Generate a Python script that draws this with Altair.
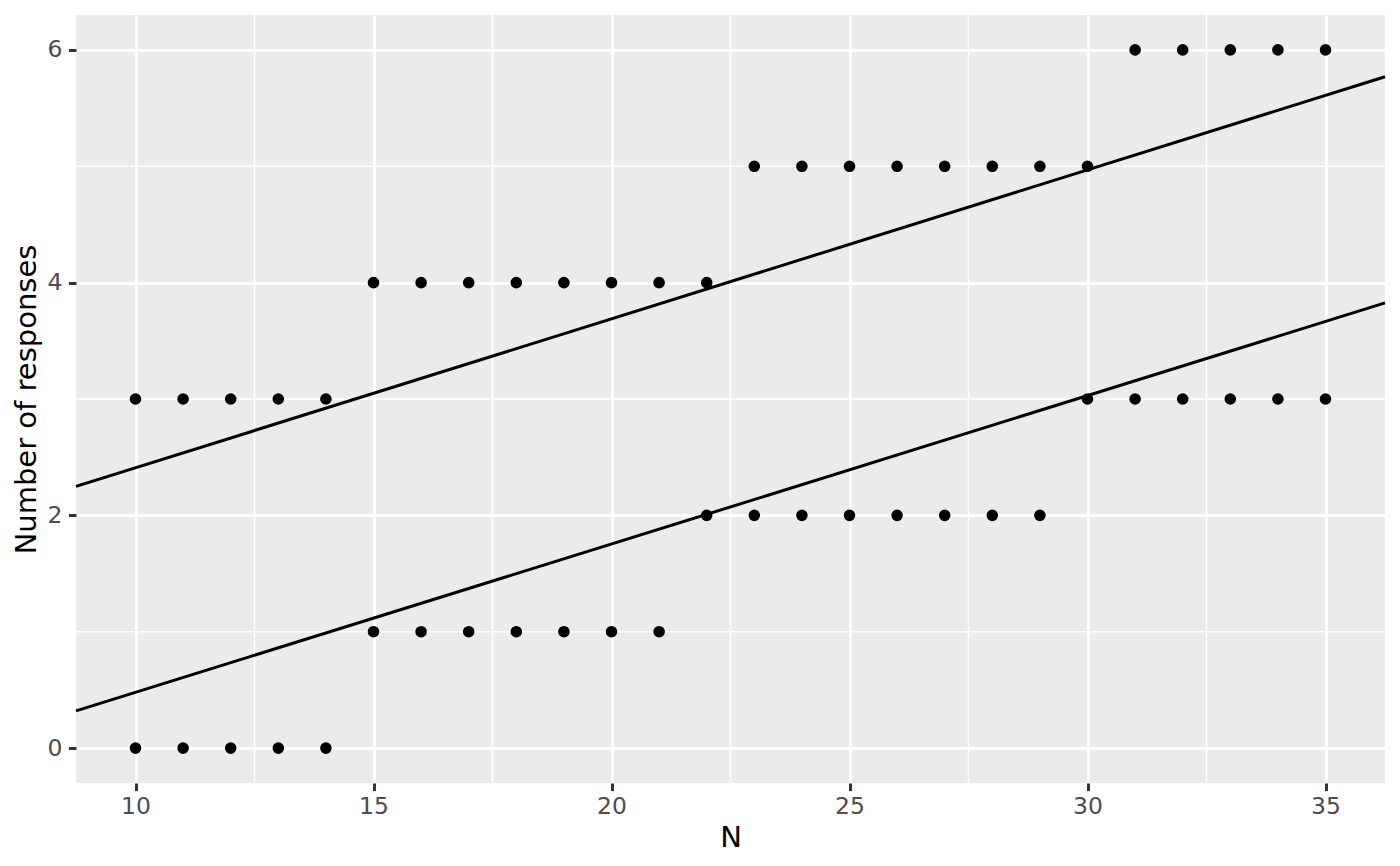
import altair as alt
import pandas as pd

# Data
n_values = list(range(10, 36))
upper_counts = [3, 3, 3, 3, 3, 4, 4, 4, 4, 4, 4, 4, 4, 5, 5, 5, 5, 5, 5, 5, 5, 6, 6, 6, 6, 6]
lower_counts = [0, 0, 0, 0, 0, 1, 1, 1, 1, 1, 1, 1, 2, 2, 2, 2, 2, 2, 2, 2, 3, 3, 3, 3, 3, 3]

line_names = ["upper", "lower"]
line_intercepts = [1.129, -0.796]
line_slopes = [0.1280, 0.1275]

x_domain = [8.75, 36.25]
y_domain = [-0.3, 6.3]
x_major = [10, 15, 20, 25, 30, 35]
x_minor = [12.5, 17.5, 22.5, 27.5, 32.5]
y_major = [0, 2, 4, 6]
y_minor = [1, 3, 5]

points = pd.DataFrame({
    "N": n_values * 2,
    "count": upper_counts + lower_counts,
})

line_rows = []
for name, a, b in zip(line_names, line_intercepts, line_slopes):
    for xv in x_domain:
        line_rows.append({"line": name, "N": xv, "count": a + b * xv})
lines = pd.DataFrame(line_rows)

xminor_df = pd.DataFrame({"v": x_minor})
yminor_df = pd.DataFrame({"v": y_minor})

FONT = "DejaVu Sans"

x_scale = alt.Scale(domain=x_domain, nice=False, zero=False)
y_scale = alt.Scale(domain=y_domain, nice=False, zero=False)

x_axis = alt.Axis(
    values=x_major, title="N", grid=True, gridColor="white", gridWidth=3,
    domain=False, tickColor="#333333", tickWidth=3, tickSize=7.6,
    labelFont=FONT, labelFontSize=23.5, labelColor="#4D4D4D",
    labelBaseline="alphabetic", labelPadding=23,
    titleFont=FONT, titleFontSize=29, titleFontWeight="normal", titleColor="black",
    titleBaseline="alphabetic", titleY=63, titleX=654.5,
)
y_axis = alt.Axis(
    values=y_major, title="Number of responses", grid=True, gridColor="white", gridWidth=3,
    domain=False, tickColor="#333333", tickWidth=3, tickSize=7.6,
    labelFont=FONT, labelFontSize=23.5, labelColor="#4D4D4D",
    labelPadding=6.5,
    titleFont=FONT, titleFontSize=29, titleFontWeight="normal", titleColor="black",
    titleBaseline="alphabetic", titleX=-41, titleY=384, titleAngle=-90,
)

minor_x = alt.Chart(xminor_df).mark_rule(color="white", strokeWidth=1.5).encode(
    x=alt.X("v:Q", scale=x_scale, axis=x_axis)
)
minor_y = alt.Chart(yminor_df).mark_rule(color="white", strokeWidth=1.5).encode(
    y=alt.Y("v:Q", scale=y_scale, axis=y_axis)
)

pts = alt.Chart(points).mark_circle(size=135, color="black", opacity=1).encode(
    x=alt.X("N:Q", scale=x_scale, axis=x_axis),
    y=alt.Y("count:Q", scale=y_scale, axis=y_axis),
)

lns = alt.Chart(lines).mark_line(color="black", strokeWidth=3).encode(
    x=alt.X("N:Q", scale=x_scale, axis=x_axis),
    y=alt.Y("count:Q", scale=y_scale, axis=y_axis),
    detail="line:N",
)

chart = alt.layer(minor_x, minor_y, lns, pts).properties(
    width=1309, height=768,
    background="white",
    autosize=alt.AutoSizeParams(type="none"),
    padding={"left": 68, "top": 7, "right": 7, "bottom": 75},
).configure_view(fill="#EBEBEB", strokeWidth=0)

chart.save("out.html", embed_options={"renderer": "svg", "actions": False})
